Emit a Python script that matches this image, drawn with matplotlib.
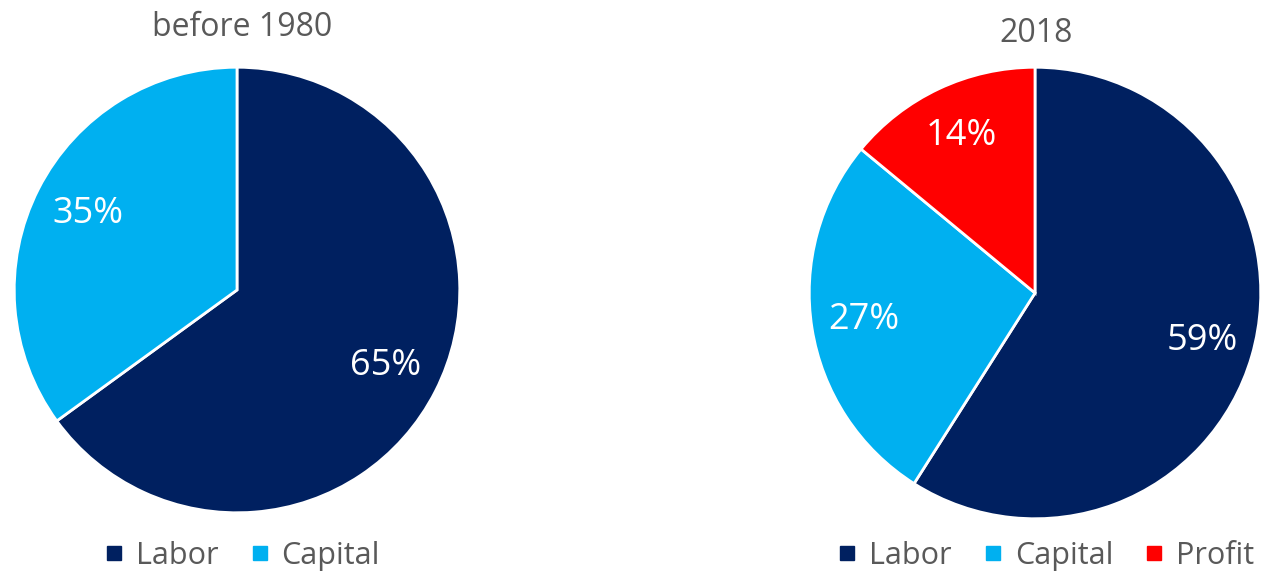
import matplotlib
matplotlib.use("Agg")
import matplotlib.pyplot as plt
from matplotlib.lines import Line2D

plt.rcParams['font.family'] = ['Open Sans', 'DejaVu Sans']

# factor shares of income
labels_before = ["Labor", "Capital"]
shares_before = [65, 35]

labels_2018 = ["Labor", "Capital", "Profit"]
shares_2018 = [59, 27, 14]

colors = {"Labor": "#002060", "Capital": "#00B0F0", "Profit": "#FF0000"}
text_gray = "#595959"

W, H = 1263, 575
fig = plt.figure(figsize=(W / 100, H / 100), dpi=100)


def pie_axes(cx, cy, r):
    # pixel centre/radius (from top-left) -> figure axes
    return fig.add_axes([(cx - r) / W, (H - cy - r) / H, 2 * r / W, 2 * r / H])


def draw_pie(ax, labels, shares, pctdist):
    ax.pie(shares, colors=[colors[l] for l in labels], startangle=90,
           counterclock=False, radius=1,
           autopct=lambda p: f"{p:.0f}%", pctdistance=pctdist,
           wedgeprops=dict(edgecolor="white", linewidth=2),
           textprops=dict(color="white", fontsize=26))
    ax.set_xlim(-1.01, 1.01)
    ax.set_ylim(-1.01, 1.01)
    ax.axis("off")


ax1 = pie_axes(237, 290, 225)
draw_pie(ax1, labels_before, shares_before, 0.75)
ax2 = pie_axes(1035, 293, 228)
draw_pie(ax2, labels_2018, shares_2018, 0.77)

fig.text(242 / W, 1 - 27 / H, "before 1980", ha="center", va="center",
         fontsize=23, color=text_gray)
fig.text(1036 / W, 1 - 34 / H, "2018", ha="center", va="center",
         fontsize=23, color=text_gray)


def legend_for(labels, x):
    handles = [Line2D([], [], marker="s", linestyle="none", markersize=10,
                      color=colors[l]) for l in labels]
    fig.legend(handles, labels, loc="center", bbox_to_anchor=(x / W, 1 - 556 / H),
               ncol=len(labels), frameon=False, fontsize=22, labelcolor=text_gray,
               handletextpad=0.47, columnspacing=1.1, handlelength=0.5,
               borderpad=0, borderaxespad=0)


legend_for(labels_before, 243)
legend_for(labels_2018, 1047)

fig.savefig("out.png", dpi=100)
